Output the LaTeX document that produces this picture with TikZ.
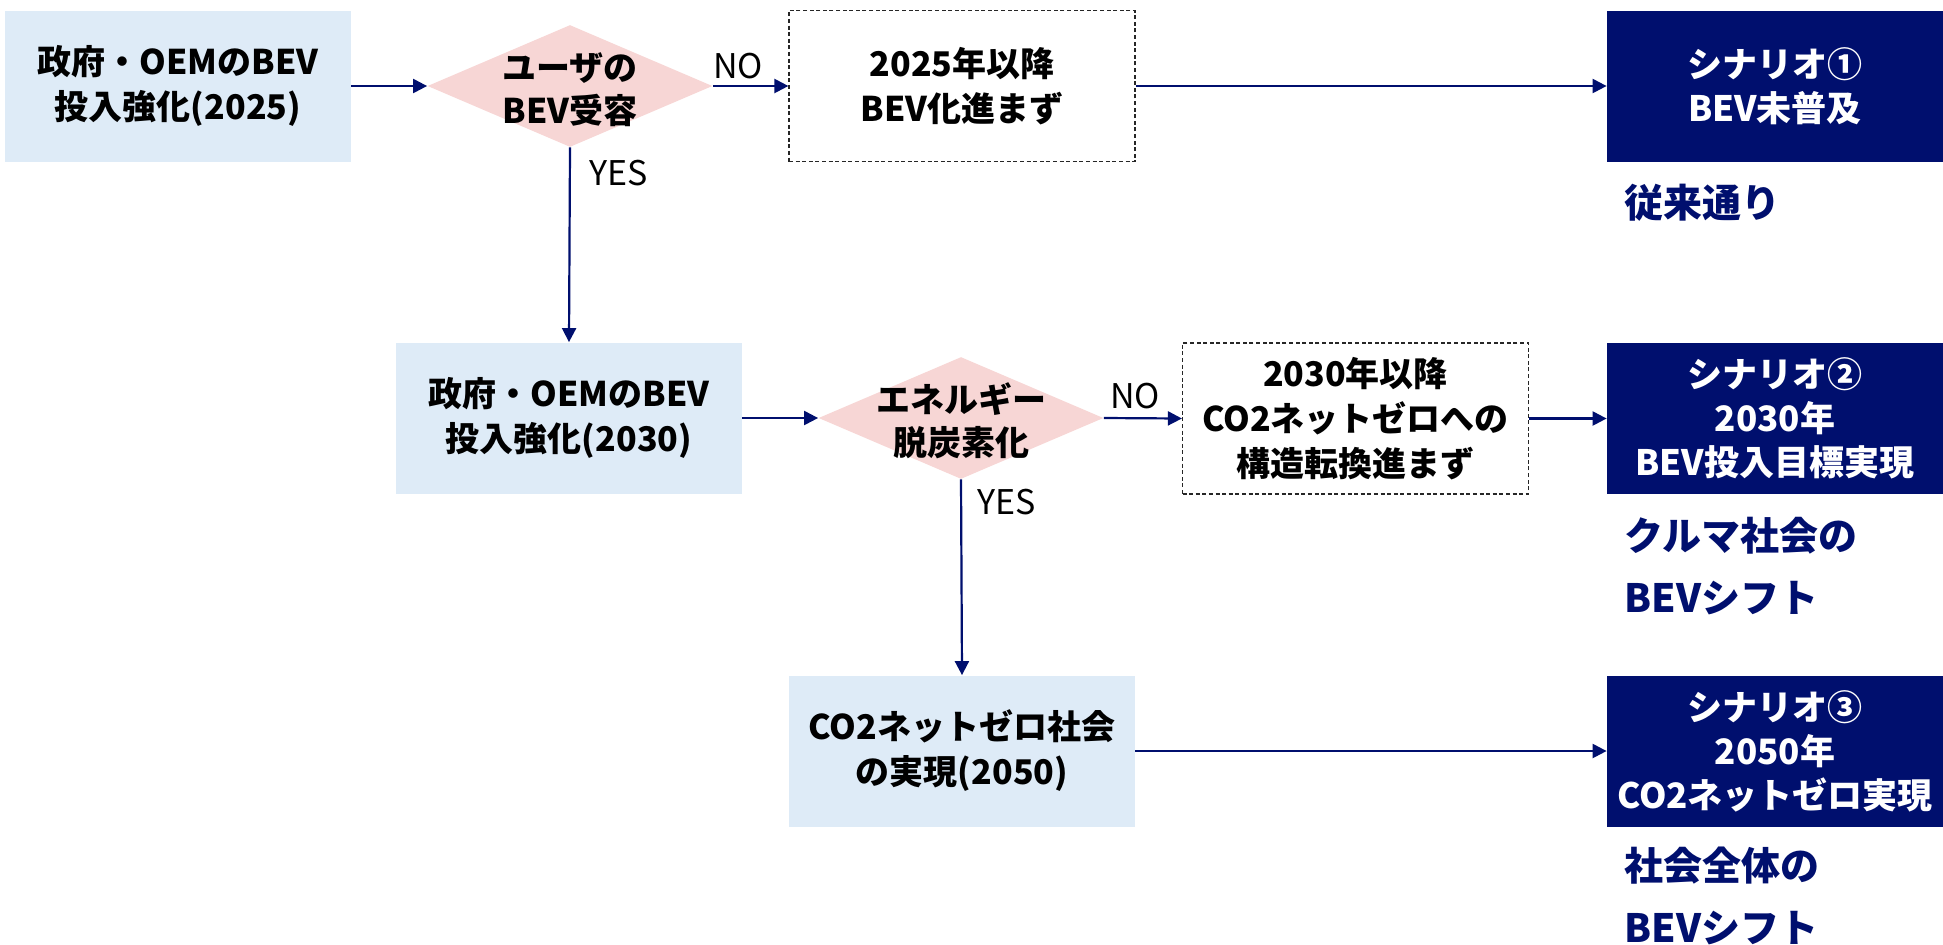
\documentclass[tikz,border=0pt]{standalone}
\usepackage{fontspec}
\setmainfont{Noto Sans CJK JP}
\usetikzlibrary{shapes.geometric,arrows.meta}
\definecolor{navy}{RGB}{0,15,110}
\definecolor{lblue}{RGB}{222,235,247}
\definecolor{lpink}{RGB}{247,214,213}
\tikzset{
  base/.style={rectangle, inner sep=0pt, align=center, font=\bfseries\fontsize{17}{22.5}\selectfont, minimum width=173pt, minimum height=75.5pt},
  bluebox/.style={base, fill=lblue},
  dashbox/.style={base, draw=black!85, line width=0.6pt, dash pattern=on 2pt off 1.3pt, fill=white},
  scenbox/.style={base, fill=navy, text=white, minimum width=168pt, font=\bfseries\fontsize{17.5}{22}\selectfont},
  decide/.style={diamond, fill=lpink, inner sep=0pt, minimum width=142.5pt, minimum height=61pt},
  dtext/.style={align=center, inner sep=0pt, font=\bfseries\fontsize{17}{21.5}\selectfont},
  lab/.style={inner sep=0pt, font=\fontsize{17}{18}\selectfont},
  outcome/.style={anchor=west, inner sep=0pt, align=left, text=navy, font=\bfseries\fontsize{19.5}{31}\selectfont},
  arr/.style={draw=navy, line width=1.1pt, -{Triangle[length=7pt,width=7pt]}}
}
\begin{document}
\begin{tikzpicture}[x=0.5pt,y=-0.5pt]
\useasboundingbox (0,0) rectangle (1943,944);
% row 1
\node[bluebox] (b1) at (178,86) {政府・OEMのBEV\\投入強化(2025)};
\node[decide] (d1) at (570,86) {};
\node[dtext] (d1t) at (570,90) {ユーザの\\BEV受容};
\node[dashbox] (x1) at (962,86) {2025年以降\\BEV化進まず};
\node[scenbox] (s1) at (1775,86) {シナリオ①\\BEV未普及};
\node[outcome] (o1) at (1624,203) {従来通り};
% row 2
\node[bluebox] (b2) at (569,418) {政府・OEMのBEV\\投入強化(2030)};
\node[decide] (d2) at (961,418) {};
\node[dtext] (d2t) at (961,421) {エネルギー\\脱炭素化};
\node[dashbox] (x2) at (1355.5,418.5) {2030年以降\\CO2ネットゼロへの\\構造転換進まず};
\node[scenbox] (s2) at (1775,418.5) {シナリオ②\\2030年\\BEV投入目標実現};
\node[outcome] (o2) at (1624,566) {クルマ社会の\\BEVシフト};
% row 3
\node[bluebox] (b3) at (962,751) {CO2ネットゼロ社会\\の実現(2050)};
\node[scenbox] (s3) at (1775,751) {シナリオ③\\2050年\\CO2ネットゼロ実現};
\node[outcome] (o3) at (1624,896) {社会全体の\\BEVシフト};
% labels
\node[lab] (n1) at (738,66) {NO};
\node[lab] (y1) at (619,173) {YES};
\node[lab] (n2) at (1135,396) {NO};
\node[lab] (y2) at (1007,502) {YES};
% connectors
\draw[arr] (b1.east) -- (d1.west);
\draw[arr] (d1.east) -- (x1.west);
\draw[arr] (x1.east) -- (s1.west);
\draw[arr] (d1.south) -- (b2.north);
\draw[arr] (b2.east) -- (d2.west);
\draw[arr] (d2.east) -- (x2.west);
\draw[arr] (x2.east) -- (s2.west);
\draw[arr] (d2.south) -- (b3.north);
\draw[arr] (b3.east) -- (s3.west);
\end{tikzpicture}
\end{document}
